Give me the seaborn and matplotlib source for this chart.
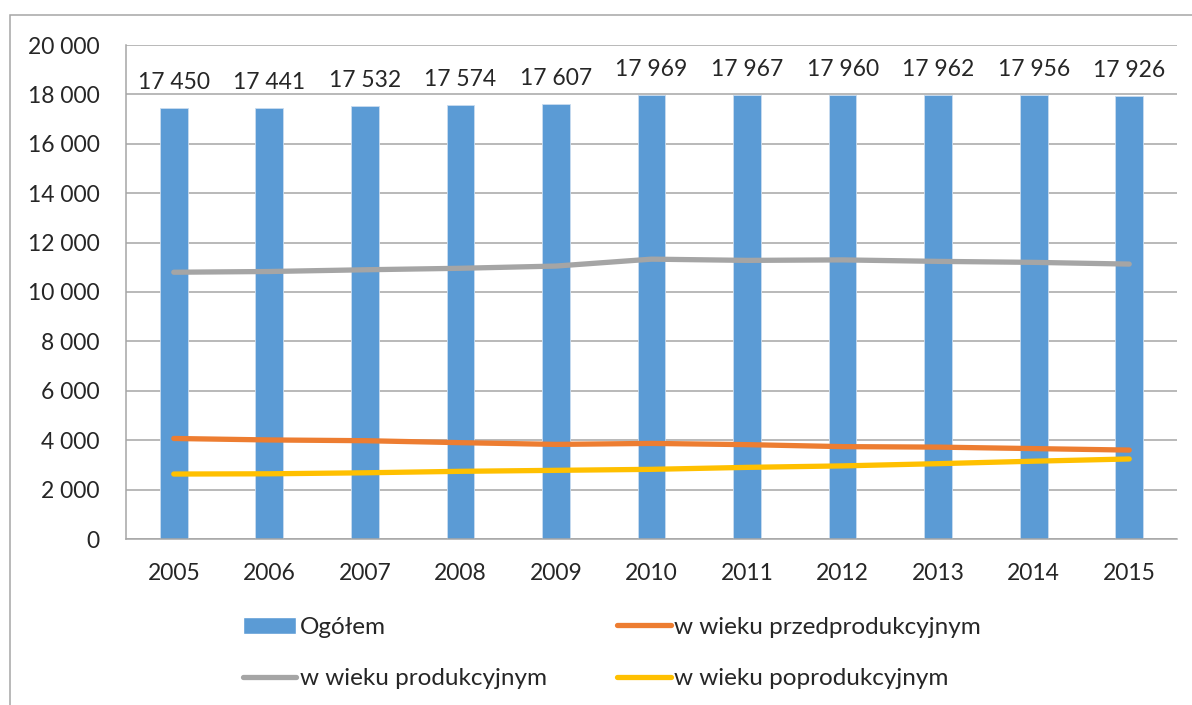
import numpy as np
import matplotlib.pyplot as plt
import pandas as pd
import seaborn as sns
from matplotlib.patches import Rectangle, Patch
from matplotlib.lines import Line2D
from matplotlib.ticker import FuncFormatter

years = ['2005', '2006', '2007', '2008', '2009', '2010', '2011', '2012', '2013', '2014', '2015']
ogolem = [17450, 17441, 17532, 17574, 17607, 17969, 17967, 17960, 17962, 17956, 17926]
przedprod = [4070, 4010, 3980, 3900, 3830, 3870, 3820, 3740, 3720, 3660, 3600]
prod = [10800, 10830, 10900, 10960, 11050, 11330, 11280, 11300, 11240, 11200, 11130]
poprod = [2630, 2640, 2680, 2740, 2780, 2820, 2900, 2960, 3050, 3150, 3240]

labels = ['Ogółem', 'w wieku przedprodukcyjnym', 'w wieku produkcyjnym', 'w wieku poprodukcyjnym']
colors = ['#5b9bd5', '#ed7d31', '#a5a5a5', '#ffc000']

sns.set_style('white')
plt.rcParams['font.family'] = ['Lato', 'DejaVu Sans']
fs = 16.5

df = pd.DataFrame({'rok': years, 'Ogółem': ogolem})
sp = lambda v, pos=None: f"{int(v):,}".replace(',', ' ')

fig = plt.figure(figsize=(11.92, 7.05), dpi=100)
ax = fig.add_axes([126/1192, 1-539/705, (1177-126)/1192, (539-45)/705])

sns.barplot(data=df, x='rok', y='Ogółem', color=colors[0], width=0.29,
            saturation=1, edgecolor='#c9dcef', linewidth=0.6, ax=ax, zorder=2)
ax.bar_label(ax.containers[0], labels=[sp(v) for v in ogolem], padding=11, fontsize=fs)

pos = np.arange(len(years))
for vals, c in zip([przedprod, prod, poprod], colors[1:]):
    sns.lineplot(x=pos, y=vals, color=c, lw=3.8, ax=ax, zorder=3,
                 solid_capstyle='round')

ax.set_xlim(-0.5, len(years) - 0.5)
ax.set_ylim(0, 20000)
ax.set_yticks(range(0, 20001, 2000))
ax.yaxis.set_major_formatter(FuncFormatter(sp))
ax.grid(axis='y', color='#a6a6a6', lw=1.1, zorder=0)
ax.set_axisbelow(True)
for s in ['top', 'right']:
    ax.spines[s].set_visible(False)
for s in ['left', 'bottom']:
    ax.spines[s].set_color('#a6a6a6')
    ax.spines[s].set_linewidth(1.1)
ax.tick_params(axis='y', length=0, pad=19, labelsize=fs)
ax.tick_params(axis='x', length=0, pad=17, labelsize=fs)
ax.set_xlabel('')
ax.set_ylabel('')

handles = [Patch(facecolor=colors[0]),
           Line2D([], [], color=colors[1], lw=3.8, solid_capstyle='round'),
           Line2D([], [], color=colors[2], lw=3.8, solid_capstyle='round'),
           Line2D([], [], color=colors[3], lw=3.8, solid_capstyle='round')]
# legend fills column by column: put items in row order
order = [0, 2, 1, 3]
fig.legend([handles[i] for i in order], [labels[i] for i in order], loc='center',
           bbox_to_anchor=(612/1192, 1-653/705), ncol=2, frameon=False, fontsize=17.5,
           handlelength=2.2, handletextpad=0.15, columnspacing=2.9, labelspacing=1.25)

fig.add_artist(Rectangle((10/1192, -0.01), 1.1, 1-15/705+0.01, transform=fig.transFigure,
                         fill=False, edgecolor='#a6a6a6', lw=1.1))

fig.savefig('out.png', dpi=100)
